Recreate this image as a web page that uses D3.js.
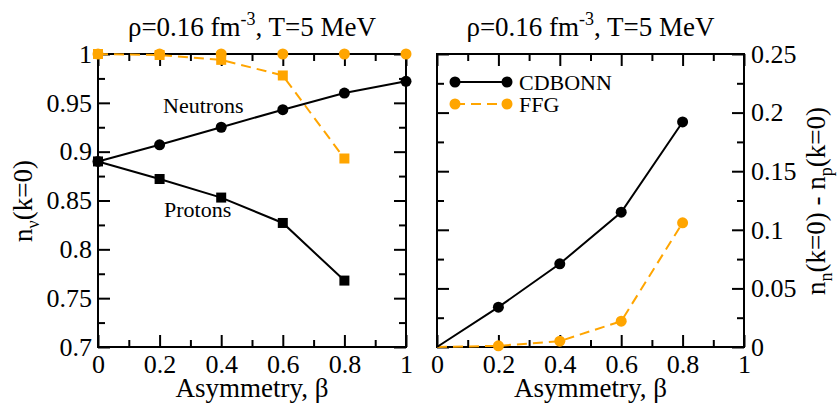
<!DOCTYPE html>
<html>
<head>
<meta charset="utf-8">
<script src="https://cdn.jsdelivr.net/npm/d3@7"></script>
<style>
  html, body { margin: 0; padding: 0; background: #fff; }
  svg { display: block; }
</style>
</head>
<body>
<svg id="chart" width="839" height="406"></svg>
<script>
// Asymmetry values
const beta = [0, 0.2, 0.4, 0.6, 0.8, 1.0];
const betaDiff = [0, 0.2, 0.4, 0.6, 0.8];

// Momentum distribution at k=0 (left panel)
const cdbonnNeutron = [0.890, 0.907, 0.925, 0.943, 0.960, 0.972];
const cdbonnProton  = [0.890, 0.872, 0.853, 0.827, 0.768];
const ffgNeutron    = [1.0, 1.0, 1.0, 1.0, 1.0, 1.0];
const ffgProton     = [1.0, 0.999, 0.994, 0.978, 0.893];

// Neutron - proton difference at k=0 (right panel)
const cdbonnDiff = [0, 0.034, 0.071, 0.115, 0.192];
const ffgDiff    = [0, 0.001, 0.005, 0.022, 0.106];

// Axis ticks
const xTicks = [0, 0.2, 0.4, 0.6, 0.8, 1.0];
const xMinor = [0.1, 0.3, 0.5, 0.7, 0.9];
const leftYTicks = [0.7, 0.75, 0.8, 0.85, 0.9, 0.95, 1.0];
const leftYMinor = [0.725, 0.775, 0.825, 0.875, 0.925, 0.975];
const rightYTicks = [0, 0.05, 0.1, 0.15, 0.2, 0.25];
const rightYMinor = [0.025, 0.075, 0.125, 0.175, 0.225];

const seriesNames = ["CDBONN", "FFG"];
const ORANGE = "#FFA500";
const SERIF = '"Liberation Serif", serif';
const FONT = 26;      // tick labels
const TFONT = 27;     // titles and axis titles
const MAJOR = 12, MINOR = 7;

const svg = d3.select("#chart");
svg.append("rect").attr("width", 839).attr("height", 406).attr("fill", "#fff");

const fmt = d => String(+d.toFixed(3));

function panel(cfg) {
  const g = svg.append("g");
  const x = d3.scaleLinear().domain([0, 1]).range([cfg.left, cfg.right]);
  const y = d3.scaleLinear().domain(cfg.yDomain).range([cfg.bottom, cfg.top]);

  // title
  const t = g.append("text")
    .attr("x", (cfg.left + cfg.right) / 2).attr("y", 36)
    .attr("text-anchor", "middle").attr("font-size", TFONT);
  t.append("tspan").text("\u03C1=0.16 fm");
  t.append("tspan").attr("font-size", 18).attr("dy", -11).text("-3");
  t.append("tspan").attr("dy", 11).text(", T=5 MeV");

  function ax(gen, scale, vals, size, labels, pos, pad) {
    const a = gen(scale).tickValues(vals).tickSizeInner(-size).tickSizeOuter(0)
      .tickPadding(pad || 0).tickFormat(labels ? fmt : () => "");
    const sel = g.append("g").attr("transform", pos).call(a).attr("font-size", FONT);
    sel.select(".domain").remove();
    sel.selectAll(".tick line").attr("stroke", "#000").attr("stroke-width", 2);
    return sel;
  }
  // x axes (bottom labelled, top ticks only)
  ax(d3.axisBottom, x, xTicks, MAJOR, true, `translate(0,${cfg.bottom})`, 8);
  ax(d3.axisBottom, x, xMinor, MINOR, false, `translate(0,${cfg.bottom})`);
  ax(d3.axisTop, x, xTicks, MAJOR, false, `translate(0,${cfg.top})`);
  ax(d3.axisTop, x, xMinor, MINOR, false, `translate(0,${cfg.top})`);
  // y axes
  ax(d3.axisLeft, y, cfg.yTicks, MAJOR, cfg.labelSide === "left", `translate(${cfg.left},0)`, 6);
  ax(d3.axisLeft, y, cfg.yMinor, MINOR, false, `translate(${cfg.left},0)`);
  ax(d3.axisRight, y, cfg.yTicks, MAJOR, cfg.labelSide === "right", `translate(${cfg.right},0)`, 7);
  ax(d3.axisRight, y, cfg.yMinor, MINOR, false, `translate(${cfg.right},0)`);

  // x axis title
  g.append("text")
    .attr("x", (cfg.left + cfg.right) / 2).attr("y", 397)
    .attr("text-anchor", "middle").attr("font-size", TFONT)
    .text("Asymmetry, \u03B2");

  return { g, x, y };
}

function drawLine(p, xs, ys, color, dashed) {
  const pts = ys.map((v, i) => [xs[i], v]);
  p.g.append("path")
    .attr("d", d3.line().x(d => p.x(d[0])).y(d => p.y(d[1]))(pts))
    .attr("fill", "none").attr("stroke", color).attr("stroke-width", 2)
    .attr("stroke-dasharray", dashed ? "10,6" : null);
}
function drawCircles(p, xs, ys, color, from) {
  const pts = ys.map((v, i) => [xs[i], v]).slice(from || 0);
  p.g.selectAll(null).data(pts).enter().append("circle")
    .attr("cx", d => p.x(d[0])).attr("cy", d => p.y(d[1])).attr("r", 5.5)
    .attr("fill", color);
}
function drawSquares(p, xs, ys, color) {
  const pts = ys.map((v, i) => [xs[i], v]);
  const s = 10;
  p.g.selectAll(null).data(pts).enter().append("rect")
    .attr("x", d => p.x(d[0]) - s / 2).attr("y", d => p.y(d[1]) - s / 2)
    .attr("width", s).attr("height", s).attr("fill", color);
}
function frame(p, cfg) {
  p.g.append("rect")
    .attr("x", cfg.left).attr("y", cfg.top)
    .attr("width", cfg.right - cfg.left).attr("height", cfg.bottom - cfg.top)
    .attr("fill", "none").attr("stroke", "#000").attr("stroke-width", 2);
}

// ---- Left panel: n_nu(k=0) versus asymmetry ----
const leftCfg = { left: 98, right: 406, top: 54, bottom: 347, yDomain: [0.7, 1.0],
  yTicks: leftYTicks, yMinor: leftYMinor, labelSide: "left" };
const L = panel(leftCfg);
drawLine(L, beta, ffgNeutron, ORANGE, true);
frame(L, leftCfg);
drawLine(L, beta, ffgProton, ORANGE, true);
drawLine(L, beta, cdbonnNeutron, "#000", false);
drawLine(L, beta, cdbonnProton, "#000", false);
drawSquares(L, beta, ffgProton, ORANGE);
drawCircles(L, beta, ffgNeutron, ORANGE);
drawSquares(L, beta, cdbonnProton, "#000");
drawCircles(L, beta, cdbonnNeutron, "#000");

L.g.append("text").attr("x", 163).attr("y", 113).attr("font-size", 22).text("Neutrons");
L.g.append("text").attr("x", 164).attr("y", 217).attr("font-size", 22).text("Protons");

const ly = L.g.append("text").attr("transform", "translate(32,201) rotate(-90)")
  .attr("text-anchor", "middle").attr("font-size", TFONT);
ly.append("tspan").text("n");
ly.append("tspan").attr("font-size", 18).attr("dy", 7).text("\u03BD");
ly.append("tspan").attr("dy", -7).text("(k=0)");

// ---- Right panel: n_n(k=0) - n_p(k=0) ----
const rightCfg = { left: 437, right: 744, top: 54, bottom: 347, yDomain: [0, 0.25],
  yTicks: rightYTicks, yMinor: rightYMinor, labelSide: "right" };
const R = panel(rightCfg);
frame(R, rightCfg);
drawLine(R, betaDiff, ffgDiff, ORANGE, true);
drawLine(R, betaDiff, cdbonnDiff, "#000", false);
drawCircles(R, betaDiff, ffgDiff, ORANGE, 1);
drawCircles(R, betaDiff, cdbonnDiff, "#000", 1);

const ry = R.g.append("text").attr("transform", "translate(825,201) rotate(-90)")
  .attr("text-anchor", "middle").attr("font-size", TFONT);
ry.append("tspan").text("n");
ry.append("tspan").attr("font-size", 18).attr("dy", 7).text("n");
ry.append("tspan").attr("dy", -7).text("(k=0) - n");
ry.append("tspan").attr("font-size", 18).attr("dy", 7).text("p");
ry.append("tspan").attr("dy", -7).text("(k=0)");

// legend
const legend = R.g.append("g");
seriesNames.forEach((name, i) => {
  const yy = 82 + i * 22;
  const color = i === 0 ? "#000" : ORANGE;
  legend.append("line").attr("x1", 455).attr("x2", 507).attr("y1", yy).attr("y2", yy)
    .attr("stroke", color).attr("stroke-width", 2)
    .attr("stroke-dasharray", i === 0 ? null : "10,6");
  [455, 507].forEach(cx => legend.append("circle").attr("cx", cx).attr("cy", yy)
    .attr("r", 5.5).attr("fill", color));
  legend.append("text").attr("x", 519).attr("y", yy + 8).attr("font-size", 22).text(name);
});

// serif face for every label
svg.selectAll("text").style("font-family", SERIF).style("fill", "#000");
</script>
</body>
</html>
